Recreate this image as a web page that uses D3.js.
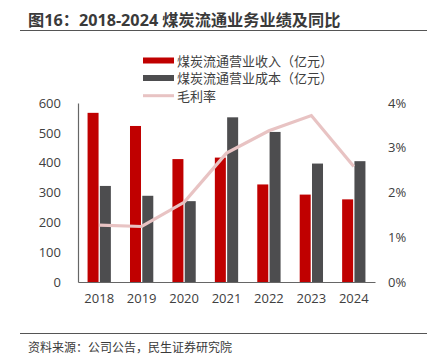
<!DOCTYPE html>
<html><head><meta charset="utf-8">
<script src="https://cdn.jsdelivr.net/npm/d3@7"></script>
<style>
body{margin:0;background:#fff;}
text{font-family:"Open Sans","Noto Sans CJK SC",sans-serif;}
</style></head>
<body><svg id="c" width="427" height="364"></svg>
<script>
const years = ["2018","2019","2020","2021","2022","2023","2024"];
const revenue = [567, 523, 412, 417, 327, 293, 277];
const cost = [322, 289, 271, 552, 503, 397, 405];
const margin = [1.27, 1.24, 1.78, 2.88, 3.38, 3.72, 2.58];
const leftTicks = [0,100,200,300,400,500,600];
const rightTicks = [0,1,2,3,4];

const svg = d3.select("#c");
const L = 78, R = 375, T = 103, B = 282;
const x = d3.scaleBand().domain(years).range([L, R]);
const y = d3.scaleLinear().domain([0,600]).range([B, T]);
const y2 = d3.scaleLinear().domain([0,4]).range([B, T]);
const txt = "#404040";

// title
svg.append("text").attr("x",28).attr("y",25.5).attr("font-size",16.2).attr("font-weight","bold")
  .attr("fill","#3a3a3a").text("图16：2018-2024 煤炭流通业务业绩及同比");
svg.append("line").attr("x1",20).attr("x2",427).attr("y1",30.5).attr("y2",30.5).attr("stroke","#555").attr("stroke-width",1.2);

// bars
const bw = 11, gap = 1.3;
const g = svg.append("g");
g.selectAll(".r").data(years).join("rect")
  .attr("x", d => x(d) + x.bandwidth()/2 - bw - gap/2)
  .attr("y", (d,i) => y(revenue[i])).attr("width", bw)
  .attr("height", (d,i) => y(0) - y(revenue[i])).attr("fill","#C00000");
g.selectAll(".k").data(years).join("rect")
  .attr("x", d => x(d) + x.bandwidth()/2 + gap/2)
  .attr("y", (d,i) => y(cost[i])).attr("width", bw)
  .attr("height", (d,i) => y(0) - y(cost[i])).attr("fill","#4D4D4F");

// line
const line = d3.line().x((d,i) => x(years[i]) + x.bandwidth()/2).y(d => y2(d));
svg.append("path").datum(margin).attr("d", line).attr("fill","none")
  .attr("stroke","#E8C3C3").attr("stroke-width",3.2);

// axes
const ax = svg.append("g").attr("transform",`translate(0,${B})`)
  .call(d3.axisBottom(x).tickSize(0).tickPadding(12));
ax.select(".domain").attr("stroke","#666").attr("stroke-width",1.2);
ax.selectAll("text").attr("font-size",13).attr("fill",txt).attr("font-family","'Open Sans',sans-serif");

const ay = svg.append("g").attr("transform",`translate(${L},0)`)
  .call(d3.axisLeft(y).tickValues(leftTicks).tickSize(0).tickPadding(17));
ay.select(".domain").attr("stroke","#666").attr("stroke-width",1.2);
ay.selectAll("text").attr("font-size",13).attr("fill",txt).attr("font-family","'Open Sans',sans-serif");

const ay2 = svg.append("g").attr("transform",`translate(${R},0)`)
  .call(d3.axisRight(y2).tickValues(rightTicks).tickSize(0).tickPadding(13).tickFormat(d => d + "%"));
ay2.select(".domain").remove();
ay2.selectAll("text").attr("font-size",13).attr("fill",txt).attr("font-family","'Open Sans',sans-serif");

// legend
const lg = svg.append("g");
lg.append("rect").attr("x",143).attr("y",57.5).attr("width",31).attr("height",6).attr("fill","#C00000");
lg.append("text").attr("x",177).attr("y",65.5).attr("font-size",13).attr("fill",txt).text("煤炭流通营业收入（亿元）");
lg.append("rect").attr("x",143).attr("y",75).attr("width",31).attr("height",6).attr("fill","#4D4D4F");
lg.append("text").attr("x",177).attr("y",83).attr("font-size",13).attr("fill",txt).text("煤炭流通营业成本（亿元）");
lg.append("line").attr("x1",143).attr("x2",174).attr("y1",95.7).attr("y2",95.7).attr("stroke","#E8C3C3").attr("stroke-width",3);
lg.append("text").attr("x",177).attr("y",100.5).attr("font-size",13).attr("fill",txt).text("毛利率");

// source
svg.append("line").attr("x1",20).attr("x2",427).attr("y1",333.5).attr("y2",333.5).attr("stroke","#555").attr("stroke-width",1.2);
svg.append("text").attr("x",28).attr("y",352).attr("font-size",12).attr("fill","#3a3a3a").text("资料来源：公司公告，民生证券研究院");
</script></body></html>
